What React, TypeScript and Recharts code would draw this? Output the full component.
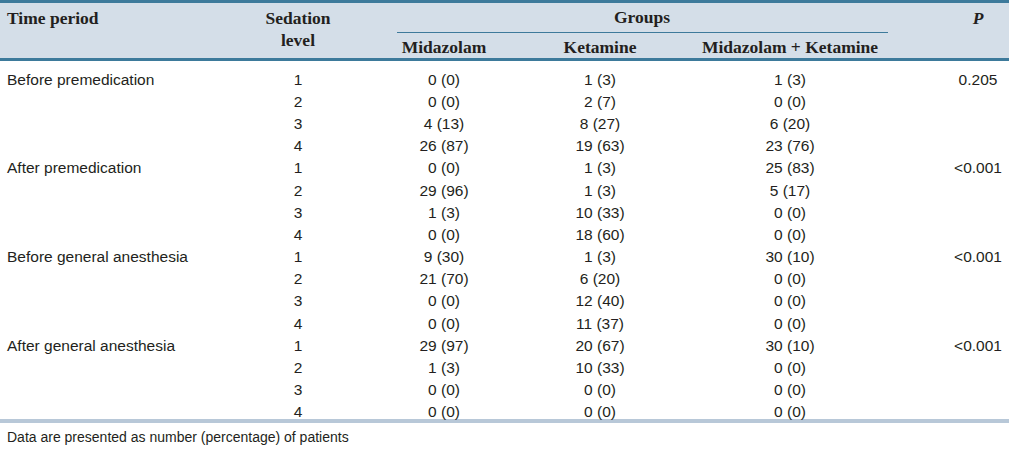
import { ScatterChart, Scatter, XAxis, YAxis, Customized } from 'recharts';

const periods = ['Before premedication', 'After premedication', 'Before general anesthesia', 'After general anesthesia'];
const levels = [1, 2, 3, 4];
const pValues = ['0.205', '<0.001', '<0.001', '<0.001'];

const midazolamN = [0, 0, 4, 26, 0, 29, 1, 0, 9, 21, 0, 0, 29, 1, 0, 0];
const midazolamPct = [0, 0, 13, 87, 0, 96, 3, 0, 30, 70, 0, 0, 97, 3, 0, 0];
const ketamineN = [1, 2, 8, 19, 1, 1, 10, 18, 1, 6, 12, 11, 20, 10, 0, 0];
const ketaminePct = [3, 7, 27, 63, 3, 3, 33, 60, 3, 20, 40, 37, 67, 33, 0, 0];
const comboN = [1, 0, 6, 23, 25, 5, 0, 0, 30, 0, 0, 0, 30, 0, 0, 0];
const comboPct = [3, 0, 20, 76, 83, 17, 0, 0, 10, 0, 0, 0, 10, 0, 0, 0];

const footnote = 'Data are presented as number (percentage) of patients';

// layout (x centres of the columns, in chart pixels)
const W = 1009;
const H = 453;
const COL = { period: 7, level: 298, mid: 444, ket: 600, combo: 790, p: 978 };
const DARK = '#3d7a9b';
const INK = '#231f20';
const BODY_FONT = '"Liberation Sans", Arial, sans-serif';
const HEAD_FONT = '"Liberation Serif", "Times New Roman", serif';

const rowCount = periods.length * levels.length;
const cell = (n: number, p: number) => `${n} (${p})`;

const periodCells = periods.map((t, i) => ({ x: COL.period, row: i * levels.length, text: t }));
const levelCells = Array.from({ length: rowCount }, (_, i) => ({ x: COL.level, row: i, text: String(levels[i % levels.length]) }));
const midCells = midazolamN.map((n, i) => ({ x: COL.mid, row: i, text: cell(n, midazolamPct[i]) }));
const ketCells = ketamineN.map((n, i) => ({ x: COL.ket, row: i, text: cell(n, ketaminePct[i]) }));
const comboCells = comboN.map((n, i) => ({ x: COL.combo, row: i, text: cell(n, comboPct[i]) }));
const pCells = pValues.map((t, i) => ({ x: COL.p, row: i * levels.length, text: t }));

const textShape = (anchor: 'start' | 'middle') => (props: any) => (
  <text
    x={props.cx}
    y={props.cy}
    textAnchor={anchor}
    dominantBaseline="central"
    fontFamily={BODY_FONT}
    fontSize={15.5}
    fill={INK}
  >
    {props.payload.text}
  </text>
);

const headText = (x: number, y: number, s: string, anchor = 'middle', italic = false) => (
  <text
    key={s}
    x={x}
    y={y}
    textAnchor={anchor}
    dominantBaseline="central"
    fontFamily={HEAD_FONT}
    fontWeight="bold"
    fontStyle={italic ? 'italic' : 'normal'}
    fontSize={17.5}
    fill={INK}
  >
    {s}
  </text>
);

const Frame = () => (
  <g>
    <rect x={0} y={0} width={W} height={60} fill="#d4dee8" />
    <rect x={0} y={0} width={W} height={3} fill={DARK} />
    <rect x={0} y={58} width={W} height={3} fill={DARK} />
    <line x1={397} x2={888} y1={32.5} y2={32.5} stroke={DARK} strokeWidth={1} />
    {headText(COL.period, 18, 'Time period', 'start')}
    {headText(COL.level, 18, 'Sedation')}
    {headText(COL.level, 40, 'level')}
    {headText(642, 17, 'Groups')}
    {headText(COL.mid, 47, 'Midazolam')}
    {headText(COL.ket, 47, 'Ketamine')}
    {headText(COL.combo, 47, 'Midazolam + Ketamine')}
    {headText(COL.p, 18, 'P', 'middle', true)}
    <rect x={0} y={419} width={W} height={4} fill="#b8c8d8" />
    <text x={7} y={437} dominantBaseline="central" fontFamily={BODY_FONT} fontSize={14} fill={INK}>
      {footnote}
    </text>
  </g>
);

export default function App() {
  return (
    <div style={{ position: 'absolute', left: 0, top: 0, width: W, height: H, background: '#fff' }}>
      <ScatterChart width={W} height={H} margin={{ top: 68, right: 0, bottom: 30, left: 0 }}>
        <XAxis type="number" dataKey="x" domain={[0, W]} hide />
        <YAxis type="number" dataKey="row" domain={[-0.5, rowCount - 0.5]} reversed hide />
        <Customized component={<Frame />} />
        <Scatter data={periodCells} shape={textShape('start')} isAnimationActive={false} />
        <Scatter data={levelCells} shape={textShape('middle')} isAnimationActive={false} />
        <Scatter data={midCells} shape={textShape('middle')} isAnimationActive={false} />
        <Scatter data={ketCells} shape={textShape('middle')} isAnimationActive={false} />
        <Scatter data={comboCells} shape={textShape('middle')} isAnimationActive={false} />
        <Scatter data={pCells} shape={textShape('middle')} isAnimationActive={false} />
      </ScatterChart>
    </div>
  );
}
